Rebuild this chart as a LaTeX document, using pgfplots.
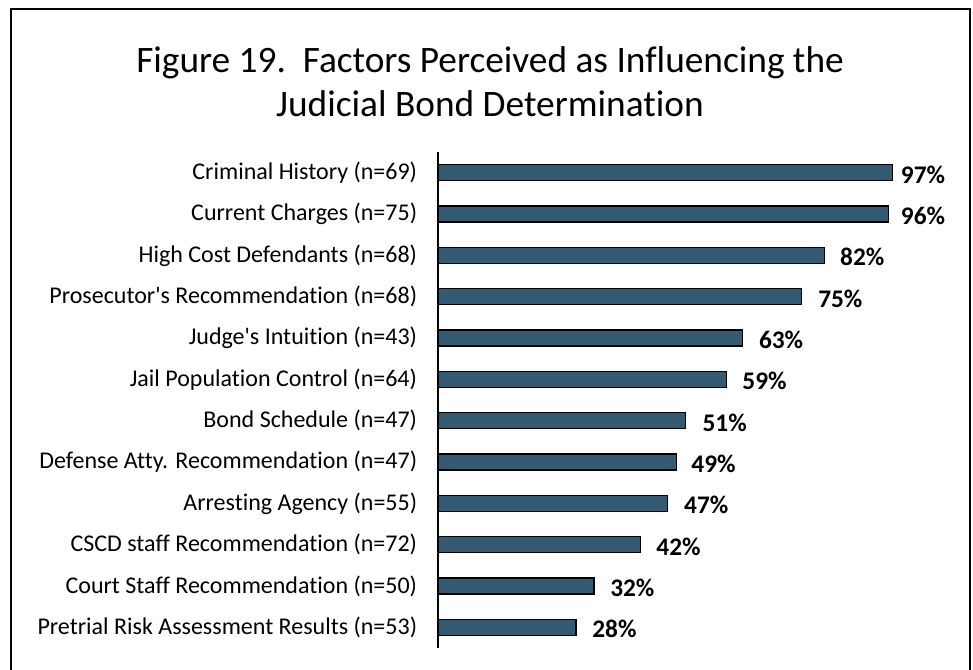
\documentclass[border=0pt]{standalone}
\usepackage{pgfplots}
\pgfplotsset{compat=1.18}
\usepackage{pgfplotstable}
\usepackage{fontspec}
\setmainfont{Carlito}[Ligatures={NoCommon}]
\definecolor{barblue}{HTML}{345A73}
\pgfplotstableread{
idx bar lx lab
0 28.4 31.7 28
1 32.1 35.4 32
2 41.7 44.9 42
3 47.3 50.6 47
4 49.0 52.1 49
5 51.0 54.4 51
6 59.4 62.6 59
7 62.7 66.0 63
8 74.8 78.2 75
9 79.6 82.7 82
10 92.7 95.2 96
11 93.6 95.2 97
}\datatab
\begin{document}
\begin{tikzpicture}
\useasboundingbox (0,0) rectangle (729.75pt,-502.5pt);
\begin{scope}
\clip (0,0) rectangle (729.75pt,-502.5pt);
\draw[line width=1.3pt] (8.25pt,-6.75pt) rectangle (727.5pt,-530pt);
\end{scope}
\node[anchor=base,font=\fontsize{28}{33}\selectfont,inner sep=0] at (367.5pt,-54.75pt) {Figure 19.\ \ Factors Perceived as Influencing the};
\node[anchor=base,font=\fontsize{28}{33}\selectfont,inner sep=0] at (367.5pt,-87.75pt) {Judicial Bond Determination};
\begin{axis}[
  at={(328.5pt,-486pt)}, anchor=south west,
  scale only axis, width=376.5pt, height=372pt,
  xmin=0, xmax=103.3, ymin=-0.5, ymax=11.5,
  axis x line=none, axis y line*=left,
  axis line style={line width=1pt,black,-},
  xtick=\empty,
  ytick={0,...,11},
  yticklabels={Pretrial Risk Assessment Results (n=53),Court Staff Recommendation (n=50),CSCD staff Recommendation (n=72),Arresting Agency (n=55),Defense Atty. Recommendation (n=47),Bond Schedule (n=47),Jail Population Control (n=64),Judge\textquotesingle s Intuition (n=43),Prosecutor\textquotesingle s Recommendation (n=68),High Cost Defendants (n=68),Current Charges (n=75),Criminal History (n=69)},
  major tick length=0pt,
  yticklabel style={font=\fontsize{18}{21}\selectfont,inner sep=0pt,anchor=east,xshift=-15.5pt},
  clip=false,
]
\addplot[xbar, bar width=12pt, fill=barblue, draw=black, line width=0.9pt] table[x=bar,y=idx] {\datatab};
\addplot[draw=none, mark=none, point meta=explicit symbolic,
  nodes near coords={\pgfplotspointmeta\%},
  nodes near coords style={anchor=west,inner sep=0pt,yshift=-1.5pt,font=\fontsize{19}{22}\selectfont\bfseries,black}]
  table[x=lx,y=idx,meta=lab] {\datatab};
\end{axis}
\end{tikzpicture}
\end{document}
